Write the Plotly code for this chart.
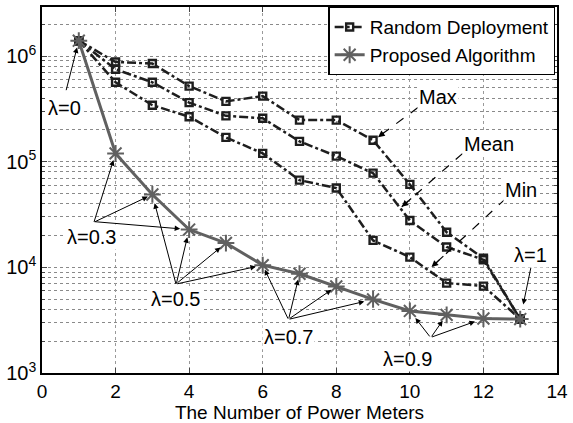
import math
import plotly.graph_objects as go

# ---------------- data ----------------
meters = [1, 2, 3, 4, 5, 6, 7, 8, 9, 10, 11, 12, 13]
rand_max = [1.40e6, 8.8e5, 8.5e5, 5.2e5, 3.73e5, 4.18e5, 2.48e5, 2.48e5, 1.6e5, 6.1e4, 2.15e4, 1.22e4, 3.24e3]
rand_mean = [1.40e6, 7.5e5, 5.65e5, 3.63e5, 2.72e5, 2.58e5, 1.56e5, 1.13e5, 7.8e4, 2.78e4, 1.56e4, 1.18e4, 3.24e3]
rand_min = [1.40e6, 5.65e5, 3.43e5, 2.67e5, 1.7e5, 1.2e5, 6.7e4, 5.64e4, 1.8e4, 1.25e4, 7.1e3, 6.65e3, 3.24e3]
proposed = [1.40e6, 1.2e5, 4.9e4, 2.28e4, 1.7e4, 1.05e4, 8.7e3, 6.6e3, 4.97e3, 3.87e3, 3.55e3, 3.28e3, 3.24e3]

x_ticks = [0, 2, 4, 6, 8, 10, 12, 14]
y_ticks = [1e3, 1e4, 1e5, 1e6]
y_ticktext = ["10<sup>3</sup>", "10<sup>4</sup>", "10<sup>5</sup>", "10<sup>6</sup>"]
y_minor = [m * 10 ** e for e in (3, 4, 5, 6) for m in range(2, 10) if m * 10 ** e < 3e6]

FONT = "Liberation Sans, Arial, sans-serif"
DARK = "#1e1e1e"
GRAY = "#606060"

fig = go.Figure()

for i, (name, ys) in enumerate([("Max", rand_max), ("Mean", rand_mean), ("Min", rand_min)]):
    fig.add_trace(go.Scatter(
        x=meters, y=ys, mode="lines+markers",
        name="Random Deployment", legendgroup="rd", showlegend=(i == 0),
        line=dict(color=DARK, width=2.5, dash="dashdot"),
        marker=dict(symbol="square-open", size=7, color=DARK, line=dict(width=2.4, color=DARK)),
    ))

fig.add_trace(go.Scatter(
    x=meters, y=proposed, mode="lines+markers", name="Proposed Algorithm",
    line=dict(color=GRAY, width=3),
    marker=dict(symbol="asterisk-open", size=14, color=GRAY, line=dict(width=2, color=GRAY)),
))

# dashed pointer lines for Max / Mean / Min labels (tail -> head)
pointers = [
    ((10.22, 5.513), (9.135, 5.233)),
    ((11.43, 5.077), (9.78, 4.574)),
    ((12.60, 4.649), (10.59, 4.003)),
]
for (tx, ty), (hx, hy) in pointers:
    fig.add_trace(go.Scatter(
        x=[tx, hx], y=[10 ** ty, 10 ** hy], mode="lines", showlegend=False,
        hoverinfo="skip", line=dict(color="black", width=1.2, dash="dash"),
    ))
    fig.add_annotation(
        x=hx, y=hy, ax=hx + 0.18 * (tx - hx), ay=hy + 0.18 * (ty - hy),
        xref="x", yref="y", axref="x", ayref="y", text="", showarrow=True,
        arrowhead=2, arrowsize=1.1, arrowwidth=1.2, arrowcolor="black",
    )

# lambda pointers: (label, label x, label log-y, [(point index, ax, ay, standoff)])
labels = [
    ("λ=0", 0.60, 5.506, [(0, -13, 51, 7)]),
    ("λ=0.3", 1.34, 4.285, [(1, -22, 70, 7), (2, -59, 28, 5), (3, -96, -8, 9)]),
    ("λ=0.5", 3.62, 3.698, [(2, 24, 91, 9), (3, -13, 55, 8), (4, -50, 41, 7), (5, -87, 19, 7)]),
    ("λ=0.7", 6.70, 3.344, [(5, 26, 55, 5), (6, -11, 46, 6), (7, -48, 33, 6), (8, -85, 20, 9)]),
    ("λ=0.9", 9.93, 3.130, [(9, 21, 27, 9), (10, -16, 23, 7), (11, -53, 19, 9)]),
    ("λ=1", 13.27, 4.117, [(12, 11, -53, 15)]),
]
for text, lx, ly, arrows in labels:
    for idx, ax, ay, so in arrows:
        fig.add_annotation(
            x=meters[idx], y=math.log10(proposed[idx]), xref="x", yref="y",
            ax=ax, ay=ay, text="", showarrow=True, standoff=so,
            arrowhead=2, arrowsize=1.1, arrowwidth=1, arrowcolor="black",
        )
for text, lx, ly, arrows in labels:
    fig.add_annotation(
        x=lx, y=ly, xref="x", yref="y", text=text, showarrow=False,
        bgcolor="white", font=dict(family=FONT, size=20, color="black"), borderpad=1,
    )

for text, lx, ly in [("Max", 10.76, 5.609), ("Mean", 12.14, 5.171), ("Min", 13.03, 4.733)]:
    fig.add_annotation(
        x=lx, y=ly, xref="x", yref="y", text=text, showarrow=False,
        bgcolor="white", font=dict(family=FONT, size=20, color="black"), borderpad=1,
    )

fig.update_layout(
    width=573, height=423,
    margin=dict(l=42, r=13, t=5, b=46),
    plot_bgcolor="white", paper_bgcolor="white",
    font=dict(family=FONT, size=18, color="black"),
    legend=dict(
        x=0.997, y=1, xanchor="right", yanchor="top",
        bgcolor="white", bordercolor="black", borderwidth=1.2,
        font=dict(family=FONT, size=19), tracegroupgap=0,
        itemwidth=30,
    ),
    showlegend=True,
)
fig.update_xaxes(
    range=[0, 14], tickvals=x_ticks, ticks="inside", ticklen=5,
    showline=True, linecolor="black", linewidth=1.5, mirror="ticks",
    showgrid=True, gridcolor="#9a9a9a", griddash="dot", gridwidth=1,
    zeroline=False, tickfont=dict(size=19),
    title=dict(text="The Number of Power Meters", font=dict(size=19), standoff=3),
)
fig.update_yaxes(
    type="log", range=[3, 6.465], tickvals=y_ticks, ticktext=y_ticktext,
    ticks="inside", ticklen=5,
    showline=True, linecolor="black", linewidth=1.5, mirror="ticks",
    showgrid=True, gridcolor="#8a8a8a", griddash="dot", gridwidth=1,
    zeroline=False, tickfont=dict(size=20),
    minor=dict(tickvals=y_minor, showgrid=True, gridcolor="#8a8a8a", griddash="dot",
               gridwidth=1, ticks="inside", ticklen=3),
)

fig.write_html("out.html")
